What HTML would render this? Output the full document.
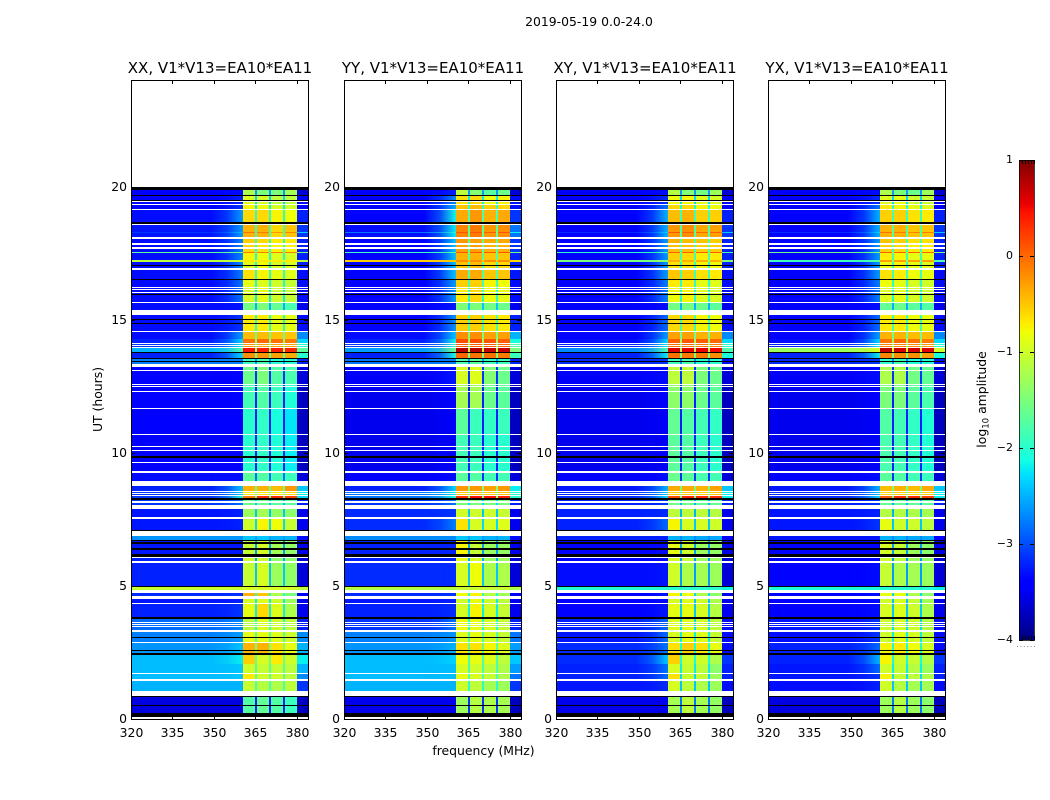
<!DOCTYPE html>
<html>
<head>
<meta charset="utf-8">
<title>2019-05-19 0.0-24.0</title>
<style>
html,body{margin:0;padding:0;background:#fff;width:1050px;height:800px;overflow:hidden}
svg{display:block}
text{font-family:"DejaVu Sans","Liberation Sans",sans-serif;fill:#000}
</style>
</head>
<body>
<svg id="figure" xmlns="http://www.w3.org/2000/svg" width="1050" height="800" viewBox="0 0 1050 800">
  <defs>
    <linearGradient id="halo-ramp" x1="0" x2="1" y1="0" y2="0">
      <stop offset="0" stop-color="#fff" stop-opacity="0"/>
      <stop offset=".5" stop-color="#fff" stop-opacity=".3"/>
      <stop offset="1" stop-color="#fff" stop-opacity="1"/>
    </linearGradient>
    <mask id="halo-fade" maskUnits="objectBoundingBox" maskContentUnits="objectBoundingBox" x="0" y="0" width="1" height="1">
      <rect x="0" y="0" width="1" height="1" fill="url(#halo-ramp)"/>
    </mask>
  </defs>
  <text x="589" y="26" font-size="12.4" text-anchor="middle">2019-05-19 0.0-24.0</text>
  <text x="483.5" y="755" font-size="12.4" text-anchor="middle">frequency (MHz)</text>
  <text transform="translate(102,399.5) rotate(-90)" font-size="12.4" text-anchor="middle">UT (hours)</text>
  <text transform="translate(986,399.5) rotate(-90)" font-size="12.4" text-anchor="middle">log<tspan font-size="8.6" dy="2.5">10</tspan><tspan dy="-2.5"> amplitude</tspan></text>
  <g id="panels"></g>
  <g id="colorbar"></g>
</svg>
<script>
// --- Axis labels ---
const freqTicks = [320, 335, 350, 365, 380];
const utTicks = [0, 5, 10, 15, 20];
const colorbarTicks = [1, 0, -1, -2, -3, -4];

// --- Frequency columns (MHz), one more edge than columns ---
const freqEdges = [320, 360.5, 365, 365.7, 370, 370.7, 375, 375.7, 380, 384];
// Which entry of a section's level list each column shows: 0 bg,2 A,3 B,4 C,5 D,6 gap,7 tail
const columnLevel = [0, 2, 6, 3, 6, 4, 6, 5, 7];
// Level entry 1 (halo) fades in over the background between these frequencies
const haloRange = [349, 360.5];

// --- Time bands, bottom to top: [state, end UT hour]. State "w" = blank flag, "k" = black flag, number = section index ---
const timeBands = [
["w",.07],["k",.22],[0,.47],["k",.52],[0,.84],["k",.88],["w",1.05],[1,1.43],["w",1.5],[2,1.68],["w",1.72],[3,2.05],[4,2.4],["k",2.48],[5,2.54],["k",2.58],[5,2.85],["w",2.89],[6,3.03],["k",3.07],[6,3.27],["w",3.35],[7,3.44],["w",3.48],[7,3.52],["w",3.56],[7,3.6],["w",3.64],[7,3.74],["k",3.82],[8,4.33],["w",4.37],[9,4.5],["w",4.62],[10,4.74],["w",4.84],[11,4.95],["k",5],[12,5.85],["w",5.92],[13,6.03],["w",6.07],["k",6.2],[14,6.36],["k",6.41],[14,6.58],["k",6.65],[14,6.69],["k",6.73],[15,6.88],["w",7.05],["k",7.09],[16,7.53],["w",7.6],[17,7.87],["w",8.05],[18,8.1],["w",8.18],[18,8.24],["k",8.3],[19,8.37],["w",8.41],[20,8.45],["w",8.49],[20,8.53],["w",8.57],[21,8.74],["w",8.93],[22,9.25],["w",9.3],[23,9.6],["w",9.65],[23,9.82],["k",9.88],[23,10.08],["w",10.12],[23,10.23],["w",10.27],[23,10.65],["w",10.69],[24,11.63],["w",11.67],[25,12.28],["w",12.33],[25,12.46],["w",12.5],[25,12.53],["w",12.57],[26,13.07],["w",13.12],[26,13.22],["w",13.32],[27,13.39],["k",13.43],[27,13.52],["k",13.56],[28,13.75],["k",13.79],[29,13.95],["w",13.99],[30,14.02],["w",14.06],[30,14.1],["w",14.14],[31,14.28],[32,14.54],["w",14.58],[33,14.85],["k",14.89],[33,15],["k",15.04],[33,15.18],["w",15.35],[34,15.61],["w",15.65],[35,15.91],["k",15.95],[35,15.99],["w",16.03],[35,16.1],["w",16.14],[35,16.2],["w",16.24],[36,16.5],["k",16.54],[37,16.87],["w",16.93],[38,17],["k",17.05],[38,17.18],[39,17.23],[40,17.5],[41,17.54],[42,17.67],["w",17.72],[42,17.81],["w",17.87],[43,18.04],["w",18.09],[44,18.24],[45,18.3],[44,18.54],["w",18.59],[44,18.61],["k",18.65],[46,19.13],["w",19.17],[47,19.32],["w",19.36],[48,19.43],["w",19.47],["k",19.51],[48,19.65],["k",19.69],[49,19.88],["k",20]
];

// --- Section levels, log10 amplitude: [bg, halo, chanA, chanB, chanC, chanD, gap, tail] ---
const xxLevels = [
[-3.35,-3.35,-1.75,-1.65,-1.75,-1.9,-3,-3.5],
[-2.5,-2.5,-1.05,-1.15,-1.2,-1.1,-1.8,-2.9],
[-2.45,-2.4,-.7,-1,-1,-1.1,-1.7,-2.7],
[-2.45,-2.4,-1,-1.05,-1.05,-1.1,-1.7,-2.5],
[-2.45,-2.2,-.55,-.95,-.7,-1,-1.6,-2.2],
[-2.65,-2.4,-.4,-.4,-.65,-.85,-1.5,-2.5],
[-2.75,-2.6,-.85,-.85,-.9,-1,-1.7,-2.7],
[-2.85,-2.7,-1.1,-.9,-1,-1.1,-2,-3],
[-3,-2.9,-.85,-.6,-.9,-1.2,-2.2,-3.3],
[-3.05,-3,-.95,-.9,-1,-1.3,-2.2,-3.3],
[-2.95,-2.9,-.4,-.5,-1.2,-1.5,-2,-3.2],
[-1.05,-1.05,-.95,-.95,-.95,-.95,-1,-1.1],
[-3,-3,-1.05,-.95,-1.3,-1.35,-2.4,-3.4],
[-3,-3,-1,-1,-1.4,-1.4,-2.5,-3.4],
[-3.05,-3.05,-1.05,-.95,-1.25,-1.35,-2.6,-3.3],
[-2.65,-2.65,-2.4,-2.4,-2.5,-2.5,-2.6,-3.1],
[-3.05,-3,-1,-.75,-.8,-1.05,-2.3,-3.3],
[-3.05,-3,-1.3,-1.25,-1.35,-1.4,-2.4,-3.3],
[-2.9,-2.8,-1.6,-1.6,-1.7,-1.7,-2.4,-3],
[-2.9,-2.1,-.1,.3,.3,.2,-1.6,-2.3],
[-2.9,-2.3,-.7,-.65,-.7,-.6,-1.7,-2.2],
[-3,-2.4,-.4,-.4,-.45,-.25,-1.6,-2.4],
[-3.1,-3.1,-1.7,-1.75,-1.85,-1.9,-2.8,-3.4],
[-3.2,-3.2,-2,-1.95,-2.05,-2.2,-3,-3.5],
[-3.2,-3.2,-2,-1.95,-2.1,-2.25,-3,-3.5],
[-3.15,-3.15,-1.85,-1.75,-1.9,-2.05,-3,-3.5],
[-3.15,-3.15,-1.6,-1.5,-1.75,-1.8,-2.9,-3.4],
[-2.75,-2.75,-1.9,-1.8,-2,-2,-2.6,-3],
[-3,-2.3,-.2,-.25,-.3,-.35,-1.6,-2],
[-2.5,-1.8,.45,.4,.4,.35,-1.3,-1.7],
[-2.9,-2.2,-.25,-.3,-.3,-.3,-1.5,-2],
[-3,-2.3,-.05,0,-.05,-.1,-1.4,-2.3],
[-3.1,-2.6,-.45,-.45,-.5,-.5,-1.6,-2.7],
[-3.1,-2.9,-.7,-.7,-.85,-.85,-2,-3.1],
[-3.1,-3.05,-1.55,-1.5,-1.65,-1.8,-2.5,-3.3],
[-3.1,-2.8,-.95,-.85,-1,-1.05,-2.2,-3.1],
[-3.1,-2.8,-.85,-.9,-1,-1.05,-2.1,-3.1],
[-3.1,-2.75,-.65,-.75,-.85,-.9,-2,-3.1],
[-3.1,-2.7,-.9,-.8,-.95,-.95,-2.1,-3],
[-1.1,-1,-.7,-.7,-.7,-.7,-1,-1.1],
[-3.1,-2.7,-.75,-.8,-.9,-.95,-2.1,-3],
[-1.7,-1.6,-.1,-.1,-.1,-.1,-1.5,-1.6],
[-3.1,-2.7,-.6,-.65,-.75,-.75,-2,-3],
[-3.1,-2.7,-.55,-.6,-.7,-.7,-2,-3],
[-3.05,-2.6,-.4,-.4,-.6,-.5,-1.9,-2.9],
[-2.9,-2.4,-.05,-.1,-.25,-.15,-1.7,-2.4],
[-3.1,-2.6,-.6,-.6,-.75,-.8,-2,-3],
[-3.15,-2.9,-.75,-.8,-.95,-1,-2.2,-3.2],
[-3.15,-3,-.9,-.95,-1.1,-1.1,-2.3,-3.2],
[-3.2,-3.1,-1.2,-1.5,-1.5,-1.25,-2.6,-3.4]
];
const yyLevels = [
[-3.3,-3.3,-1.3,-1.15,-1.2,-1.25,-2.9,-3.5],
[-2.5,-2.5,-1,-1.1,-1.25,-1.3,-2,-2.9],
[-2.45,-2.45,-.85,-.95,-1.05,-1.2,-1.8,-2.8],
[-2.45,-2.45,-.95,-1,-1.1,-1.2,-1.8,-2.6],
[-2.45,-2.35,-.8,-.85,-.9,-1.1,-1.8,-2.4],
[-2.65,-2.5,-.65,-.65,-.75,-.9,-1.7,-2.6],
[-2.75,-2.65,-.9,-.85,-.95,-1.05,-1.8,-2.8],
[-2.9,-2.8,-.8,-.85,-.95,-1.05,-2.1,-3],
[-3,-2.95,-.95,-.75,-.95,-1.05,-2.2,-3.3],
[-3.05,-3,-1,-.85,-1,-1.1,-2.2,-3.3],
[-2.95,-2.9,-.8,-.75,-1.15,-1.3,-2,-3.2],
[-1.15,-1.15,-1.05,-1.05,-1.05,-1.05,-1.1,-1.2],
[-2.95,-2.95,-.95,-.8,-1.2,-1.2,-2.4,-3.4],
[-3,-3,-.85,-.95,-1.3,-1.3,-2.5,-3.4],
[-3,-3,-.75,-1.05,-1.3,-1.35,-2.6,-3.3],
[-2.7,-2.7,-2.4,-2.4,-2.5,-2.5,-2.6,-3.1],
[-2.95,-2.75,-.65,-.95,-.95,-.9,-2.3,-3.3],
[-2.95,-2.9,-1,-1,-1,-1.05,-2.4,-3.3],
[-2.9,-2.8,-1.5,-1.5,-1.5,-1.5,-2.3,-3],
[-2.8,-2.1,.3,.45,.45,.4,-1.4,-2],
[-2.8,-2.2,-.5,-.45,-.5,-.45,-1.5,-2],
[-3,-2.3,-.25,-.25,-.3,-.25,-1.4,-2.2],
[-3.2,-3.1,-1.7,-1.75,-1.85,-1.85,-2.9,-3.4],
[-3.3,-3.25,-1.85,-1.9,-2,-2,-3,-3.5],
[-3.3,-3.25,-1.7,-1.9,-1.95,-1.9,-3,-3.5],
[-3.3,-3.2,-1.25,-1.25,-1.6,-1.7,-3,-3.5],
[-3.25,-3.05,-.95,-.9,-1.45,-1.6,-2.9,-3.4],
[-2.8,-2.75,-1.8,-1.7,-1.9,-1.9,-2.6,-3],
[-3,-2.1,0,-.05,-.05,-.1,-1.5,-1.9],
[-2.6,-1.6,.75,.75,.7,.7,-1.1,-1.5],
[-2.9,-2,.05,.05,.05,0,-1.4,-1.8],
[-3,-2.15,.15,.15,.1,.05,-1.3,-2.1],
[-3.1,-2.4,-.2,-.2,-.3,-.3,-1.5,-2.5],
[-3.15,-2.65,-.55,-.55,-.65,-.7,-1.8,-3],
[-3.15,-3.05,-1.5,-1.5,-1.55,-1.6,-2.4,-3.3],
[-3.15,-2.6,-.7,-.6,-.8,-.85,-2,-3.1],
[-3.15,-2.6,-.55,-.55,-.75,-.8,-1.9,-3.1],
[-3.15,-2.4,-.35,-.35,-.5,-.5,-1.8,-3.05],
[-3.15,-2.4,-.5,-.45,-.6,-.6,-1.9,-3],
[-.55,-.5,-.2,-.2,-.2,-.2,-.5,-.6],
[-3.15,-2.4,-.4,-.4,-.5,-.5,-1.8,-3],
[-1.9,-1.7,.1,.1,.1,.1,-1.4,-1.6],
[-3.15,-2.4,-.3,-.3,-.4,-.4,-1.8,-2.9],
[-3.15,-2.4,-.25,-.3,-.35,-.35,-1.7,-2.9],
[-3.1,-2.2,-.15,-.1,-.25,-.2,-1.7,-2.8],
[-2.8,-2,.1,.1,.05,.1,-1.5,-2.2],
[-3.15,-2.15,-.35,-.25,-.4,-.35,-1.8,-2.9],
[-3.2,-2.5,-.5,-.45,-.55,-.6,-2,-3.1],
[-3.2,-2.7,-.65,-.6,-.8,-.75,-2.2,-3.1],
[-3.2,-3,-1.1,-1.45,-1.7,-1.6,-2.6,-3.4]
];
const xyLevels = [
[-3.3,-3.3,-1.25,-1.1,-1.25,-1.35,-2.8,-3.5],
[-3.05,-2.95,-.95,-1.1,-1.2,-1.3,-2.4,-3.1],
[-3,-2.85,-.65,-1.05,-1.05,-1.3,-2.3,-3],
[-3,-2.8,-.95,-1.05,-1.1,-1.4,-2.2,-3],
[-2.95,-2.4,-.55,-1,-1,-1.2,-2.1,-2.9],
[-2.95,-2.8,-.65,-.55,-.65,-.85,-2.1,-3.1],
[-3.05,-2.85,-.95,-.85,-.9,-1.05,-2.2,-3.1],
[-3,-2.85,-.9,-.9,-.95,-1.1,-2.3,-3.1],
[-3.15,-3.05,-.85,-.85,-.95,-1.15,-2.4,-3.3],
[-3.2,-3.1,-.95,-.9,-1,-1.2,-2.4,-3.3],
[-3.15,-3.05,-.75,-.8,-1.2,-1.4,-2.3,-3.3],
[-2.05,-2.05,-2,-2,-2,-2,-2.05,-2.15],
[-3.1,-3.05,-1,-1.2,-1.25,-1.3,-2.6,-3.4],
[-3.15,-3.1,-.95,-1.05,-1.3,-1.3,-2.6,-3.4],
[-3.15,-3.1,-.85,-1,-1.3,-1.35,-2.6,-3.3],
[-3,-3,-2.5,-2.5,-2.55,-2.55,-2.7,-3.2],
[-3,-2.85,-.75,-.95,-.95,-1,-2.4,-3.3],
[-3,-2.95,-1.1,-1.1,-1.1,-1.15,-2.5,-3.3],
[-3,-2.9,-1.55,-1.6,-1.65,-1.65,-2.5,-3],
[-2.95,-2.3,.15,.35,.35,.3,-1.5,-2.2],
[-2.95,-2.4,-.55,-.5,-.55,-.5,-1.6,-2.2],
[-3.05,-2.5,-.35,-.35,-.4,-.3,-1.5,-2.4],
[-3.2,-3.1,-1.6,-1.7,-1.8,-1.85,-2.9,-3.4],
[-3.3,-3.25,-1.7,-1.75,-1.9,-2,-3,-3.5],
[-3.3,-3.25,-1.65,-1.75,-1.85,-1.95,-3,-3.5],
[-3.3,-3.2,-1.4,-1.4,-1.6,-1.7,-3,-3.5],
[-3.25,-3.1,-1.1,-1.1,-1.5,-1.6,-2.9,-3.4],
[-2.95,-2.9,-1.9,-1.8,-2,-2,-2.7,-3.1],
[-3,-2.2,-.05,-.1,-.1,-.2,-1.5,-2.1],
[-2.7,-1.8,.6,.55,.55,.5,-1.2,-1.8],
[-3,-2.2,-.05,-.05,-.1,-.15,-1.4,-2],
[-3.1,-2.3,.05,.1,.05,0,-1.3,-2.3],
[-3.15,-2.6,-.3,-.3,-.4,-.4,-1.6,-2.7],
[-3.2,-2.85,-.6,-.6,-.75,-.8,-1.9,-3.1],
[-3.2,-3.1,-1.55,-1.55,-1.6,-1.7,-2.5,-3.3],
[-3.2,-2.75,-.8,-.75,-.9,-.95,-2.1,-3.1],
[-3.2,-2.75,-.7,-.7,-.85,-.9,-2,-3.1],
[-3.2,-2.6,-.5,-.55,-.65,-.7,-1.9,-3.1],
[-3.2,-2.6,-.65,-.65,-.75,-.8,-2,-3],
[-1.5,-1.4,-.4,-.4,-.4,-.4,-1.3,-1.5],
[-3.2,-2.6,-.55,-.6,-.7,-.7,-1.9,-3],
[-2,-1.8,.05,.05,.05,.05,-1.5,-1.8],
[-3.2,-2.6,-.45,-.45,-.55,-.55,-1.9,-3],
[-3.2,-2.6,-.4,-.45,-.5,-.55,-1.8,-3],
[-3.15,-2.5,-.25,-.2,-.35,-.3,-1.8,-2.9],
[-2.95,-2.3,.1,.05,0,.05,-1.6,-2.4],
[-3.2,-2.5,-.45,-.4,-.55,-.55,-1.9,-3],
[-3.2,-2.8,-.6,-.6,-.75,-.8,-2.1,-3.2],
[-3.2,-2.95,-.8,-.75,-.9,-.95,-2.3,-3.2],
[-3.25,-3.1,-1.15,-1.45,-1.55,-1.3,-2.6,-3.4]
];
const yxLevels = [
[-3.35,-3.35,-1.3,-1.15,-1.3,-1.4,-2.8,-3.5],
[-3.1,-3,-1,-1.15,-1.25,-1.25,-2.4,-3.1],
[-3.05,-2.9,-.75,-1.05,-1.1,-1.2,-2.3,-3],
[-3.05,-2.85,-1,-1.05,-1.15,-1.3,-2.2,-3],
[-3,-2.5,-.75,-1,-1.05,-1.15,-2.1,-2.9],
[-3,-2.85,-.75,-.7,-.8,-.95,-2.1,-3.1],
[-3.1,-2.9,-1,-.9,-.95,-1.1,-2.2,-3.1],
[-3.05,-2.9,-1,-.95,-1,-1.15,-2.3,-3.1],
[-3.2,-3.1,-.95,-.9,-1,-1.2,-2.4,-3.3],
[-3.2,-3.1,-1,-.95,-1.05,-1.25,-2.4,-3.3],
[-3.2,-3.1,-.85,-.85,-1.2,-1.4,-2.3,-3.3],
[-2.1,-2.1,-2.05,-2.05,-2.05,-2.05,-2.1,-2.2],
[-3.15,-3.1,-1.05,-1.2,-1.25,-1.3,-2.6,-3.4],
[-3.2,-3.15,-1,-1.1,-1.3,-1.35,-2.6,-3.4],
[-3.2,-3.15,-.95,-1.05,-1.3,-1.4,-2.6,-3.3],
[-3.05,-3.05,-2.5,-2.5,-2.55,-2.55,-2.7,-3.2],
[-3.05,-2.9,-.85,-1,-1,-1.1,-2.4,-3.3],
[-3.05,-3,-1.15,-1.15,-1.2,-1.25,-2.5,-3.3],
[-3,-2.9,-1.65,-1.65,-1.7,-1.7,-2.5,-3],
[-2.95,-2.3,.05,.3,.3,.2,-1.5,-2.2],
[-2.95,-2.4,-.6,-.55,-.6,-.55,-1.6,-2.2],
[-3.05,-2.5,-.45,-.4,-.45,-.35,-1.5,-2.4],
[-3.2,-3.1,-1.7,-1.75,-1.85,-1.9,-2.9,-3.4],
[-3.3,-3.25,-1.8,-1.85,-1.95,-2.05,-3,-3.5],
[-3.3,-3.25,-1.75,-1.85,-1.95,-2.05,-3,-3.5],
[-3.3,-3.2,-1.5,-1.5,-1.7,-1.8,-3,-3.5],
[-3.25,-3.1,-1.2,-1.2,-1.55,-1.65,-2.9,-3.4],
[-2.95,-2.9,-1.95,-1.85,-2.05,-2.05,-2.7,-3.1],
[-3,-2.2,-.15,-.2,-.2,-.3,-1.5,-2.1],
[-1.3,-.9,.7,.65,.65,.6,-.9,-1],
[-3,-2.2,-.15,-.15,-.2,-.25,-1.4,-2],
[-3.1,-2.3,-.05,0,-.05,-.1,-1.3,-2.3],
[-3.15,-2.6,-.4,-.4,-.45,-.45,-1.6,-2.7],
[-3.2,-2.85,-.7,-.7,-.8,-.85,-1.9,-3.1],
[-3.2,-3.1,-1.65,-1.6,-1.7,-1.75,-2.5,-3.3],
[-3.2,-2.75,-.9,-.85,-.95,-1,-2.1,-3.1],
[-3.2,-2.75,-.8,-.85,-.95,-1,-2,-3.1],
[-3.2,-2.6,-.65,-.7,-.8,-.85,-1.9,-3.1],
[-3.2,-2.6,-.8,-.75,-.85,-.9,-2,-3],
[-1.9,-1.7,-.3,-.3,-.3,-.3,-1.5,-1.8],
[-3.2,-2.6,-.7,-.75,-.85,-.85,-1.9,-3],
[-1.6,-1.5,.05,.05,.05,.05,-1.3,-1.5],
[-3.2,-2.6,-.55,-.6,-.7,-.7,-1.9,-3],
[-3.2,-2.6,-.5,-.55,-.65,-.65,-1.8,-3],
[-3.15,-2.5,-.4,-.4,-.5,-.5,-1.8,-2.9],
[-2.95,-2.3,-.05,-.1,-.15,-.1,-1.6,-2.4],
[-3.2,-2.5,-.55,-.55,-.65,-.7,-1.9,-3],
[-3.2,-2.8,-.7,-.75,-.85,-.9,-2.1,-3.2],
[-3.2,-2.95,-.9,-.85,-1,-1.05,-2.3,-3.2],
[-3.25,-3.1,-1.2,-1.5,-1.6,-1.3,-2.6,-3.4]
];

const panelTitles = ["XX, V1*V13=EA10*EA11", "YY, V1*V13=EA10*EA11", "XY, V1*V13=EA10*EA11", "YX, V1*V13=EA10*EA11"];
const panelSlugs = ["xx", "yy", "xy", "yx"];
const panelLevels = [xxLevels, yyLevels, xyLevels, yxLevels];

// --- Layout ---
const NS = "http://www.w3.org/2000/svg";
const panelLefts = [131, 344, 556, 768];
const panelWidth = 177, plotTop = 80, plotBottom = 719;
const freqMin = 320, freqMax = 384, utMin = 0, utMax = 24;
const levelMin = -4, levelMax = 1;
const cbLeft = 1019, cbRight = 1034, cbTop = 160, cbBottom = 640;
// The noise floor is speckled with dark pixels, so flat cells read slightly darker than their level
const noiseFloor = -2.85, noiseDim = 0.22;

function xScale(left, f) { return left + (f - freqMin) / (freqMax - freqMin) * panelWidth; }
function yScale(ut) { return plotBottom - (ut - utMin) / (utMax - utMin) * (plotBottom - plotTop); }
function cbScale(v) { return cbBottom - (v - levelMin) / (levelMax - levelMin) * (cbBottom - cbTop); }
function cellLevel(v) { return v < noiseFloor ? v - noiseDim : v; }

function jetPiece(t, pts) {
  for (let i = 1; i < pts.length; i++) {
    if (t <= pts[i][0]) {
      const a = pts[i - 1], b = pts[i];
      return a[1] + (b[1] - a[1]) * (t - a[0]) / (b[0] - a[0]);
    }
  }
  return pts[pts.length - 1][1];
}
function jet(v) {
  const t = Math.max(0, Math.min(1, (v - levelMin) / (levelMax - levelMin)));
  const r = jetPiece(t, [[0, 0], [.35, 0], [.66, 1], [.89, 1], [1, .5]]);
  const g = jetPiece(t, [[0, 0], [.125, 0], [.375, 1], [.64, 1], [.91, 0], [1, 0]]);
  const b = jetPiece(t, [[0, .5], [.11, 1], [.34, 1], [.65, 0], [1, 0]]);
  return "rgb(" + Math.round(r * 255) + "," + Math.round(g * 255) + "," + Math.round(b * 255) + ")";
}
function make(tag, attrs, parent) {
  const el = document.createElementNS(NS, tag);
  for (const k in attrs) el.setAttribute(k, attrs[k]);
  parent.appendChild(el);
  return el;
}

const panelsRoot = document.getElementById("panels");
panelLefts.forEach(function (left, p) {
  const g = make("g", {}, panelsRoot);
  
  
  const levels = panelLevels[p];

  // heatmap cells
  let utFrom = 0;
  timeBands.forEach(function (band) {
    const state = band[0], utTo = band[1];
    const y0 = Math.round(yScale(utTo));
    const y1 = Math.round(yScale(utFrom));
    utFrom = utTo;
    if (state === "w") return;
    if (state === "k") {
      const flag = make("rect", { x: left, y: y0, width: panelWidth, height: y1 - y0, fill: "#000" }, g);
      
      
      return;
    }
    const row = levels[state];
    columnLevel.forEach(function (idx, c) {
      const x0 = Math.round(xScale(left, freqEdges[c]));
      const x1 = Math.round(xScale(left, freqEdges[c + 1]));
      const cell = make("rect", { x: x0, y: y0, width: x1 - x0, height: y1 - y0, fill: jet(cellLevel(row[idx])) }, g);
      
      
    });
    const hx0 = Math.round(xScale(left, haloRange[0]));
    const hx1 = Math.round(xScale(left, haloRange[1]));
    const halo = make("rect", { x: hx0, y: y0, width: hx1 - hx0, height: y1 - y0, fill: jet(cellLevel(row[1])), mask: "url(#halo-fade)" }, g);
    
    
  });

  // frame
  const frame = make("rect", { x: left + .5, y: plotTop + .5, width: panelWidth, height: plotBottom - plotTop, fill: "none", stroke: "#000", "stroke-width": 1 }, g);
  
  

  // x ticks and labels
  freqTicks.forEach(function (f) {
    const x = Math.round(xScale(left, f)) + .5;
    const t1 = make("line", { x1: x, x2: x, y1: plotBottom, y2: plotBottom - 4, stroke: "#000" }, g);
    
    
    const t2 = make("line", { x1: x, x2: x, y1: plotTop, y2: plotTop + 4, stroke: "#000" }, g);
    
    
    const lab = make("text", { x: x, y: 737, "font-size": 12.4, "text-anchor": "middle" }, g);
    lab.textContent = String(f);
    
    
  });

  // y ticks and labels
  utTicks.forEach(function (u) {
    const y = Math.round(yScale(u)) + .5;
    const t1 = make("line", { x1: left, x2: left + 4, y1: y, y2: y, stroke: "#000" }, g);
    
    
    const t2 = make("line", { x1: left + panelWidth, x2: left + panelWidth - 4, y1: y, y2: y, stroke: "#000" }, g);
    
    
    const lab = make("text", { x: left - 4, y: y + 3.5, "font-size": 12.4, "text-anchor": "end" }, g);
    lab.textContent = String(u);
    
    
  });

  const title = make("text", { x: left + panelWidth / 2 + .5, y: 73, "font-size": 15, "text-anchor": "middle" }, g);
  title.textContent = panelTitles[p];
  
  
});

// --- Colorbar ---
const cb = document.getElementById("colorbar");
for (let y = cbTop; y < cbBottom; y += 2) {
  const v = levelMax - (y + 1 - cbTop) / (cbBottom - cbTop) * (levelMax - levelMin);
  const sw = make("rect", { x: cbLeft, y: y, width: cbRight - cbLeft, height: 2, fill: jet(v) }, cb);
  
  
}
const cbFrame = make("rect", { x: cbLeft + .5, y: cbTop + .5, width: cbRight - cbLeft, height: cbBottom - cbTop, fill: "none", stroke: "#000", "stroke-opacity": .75 }, cb);


colorbarTicks.forEach(function (v) {
  const y = Math.round(cbScale(v)) + .5;
  const a = make("line", { x1: cbLeft, x2: cbLeft + 4, y1: y, y2: y, stroke: "#000" }, cb);
  
  
  const c = make("line", { x1: cbRight, x2: cbRight - 4, y1: y, y2: y, stroke: "#000" }, cb);
  
  
  const lab = make("text", { x: cbLeft - 6, y: y + 2.5, "font-size": 11, "text-anchor": "end" }, cb);
  lab.textContent = v < 0 ? "\u2212" + Math.abs(v) : String(v);
  
  
});
[0, 1, 2, 3, 4].forEach(function (i) {
  const x = cbLeft + 3 + i * 3 + .5;
  const top = make("line", { x1: x, x2: x, y1: cbTop, y2: cbTop + 4, stroke: "#000" }, cb);
  
  
  const bot = make("line", { x1: x, x2: x, y1: cbBottom, y2: cbBottom - 4, stroke: "#000" }, cb);
  
  
});
const dots = make("line", { x1: 1017, x2: 1035, y1: 646.5, y2: 646.5, stroke: "#888", "stroke-dasharray": "1 2.4" }, cb);


</script>
</body>
</html>
